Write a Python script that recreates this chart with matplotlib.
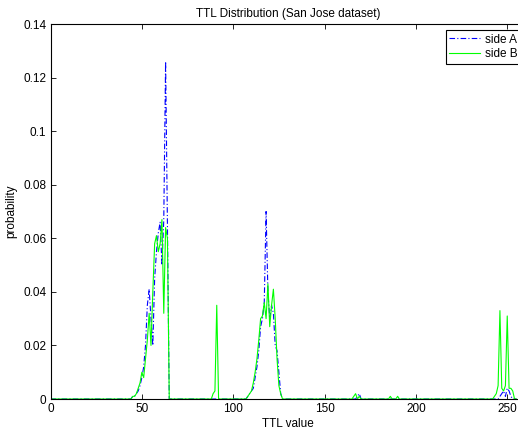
import numpy as np
import matplotlib
matplotlib.use('Agg')
import matplotlib.pyplot as plt
from matplotlib.ticker import FuncFormatter

plt.rcParams['font.family'] = ['Liberation Sans', 'DejaVu Sans']

# TTL values 0..255, most probabilities are zero
ttl = np.arange(256)

# side A: nonzero TTLs and their probability
a_ttl = [45, 46, 47, 48, 49, 50, 51, 52, 53, 54, 55, 56, 57, 58, 59, 60, 61, 62, 63, 64,
         108, 109, 110, 111, 112, 113, 114, 115, 116, 117, 118, 119, 120, 121, 122, 123, 124, 125, 126,
         168, 169, 246, 247, 248, 249, 250, 251, 252]
a_prob = [0.001, 0.001, 0.002, 0.003, 0.005, 0.008, 0.012, 0.02, 0.035, 0.041, 0.03, 0.02, 0.045, 0.055, 0.062, 0.066, 0.05, 0.067, 0.126, 0.065,
          0.001, 0.002, 0.003, 0.004, 0.008, 0.012, 0.018, 0.027, 0.03, 0.036, 0.070, 0.04, 0.03, 0.035, 0.032, 0.02, 0.018, 0.01, 0.002,
          0.001, 0.002, 0.001, 0.002, 0.003, 0.001, 0.004, 0.003, 0.001]

# side B: nonzero TTLs and their probability
b_ttl = [45, 46, 47, 48, 49, 50, 51, 52, 53, 54, 55, 56, 57, 58, 59, 60, 61, 62, 63, 64,
         89, 90, 91,
         108, 109, 110, 111, 112, 113, 114, 115, 116, 117, 118, 119, 120, 121, 122, 123, 124, 125, 126,
         166, 167, 169, 186, 190,
         243, 244, 245, 246, 247, 248, 249, 250, 251, 252, 253]
b_prob = [0.001, 0.001, 0.002, 0.004, 0.006, 0.01, 0.008, 0.015, 0.022, 0.032, 0.02, 0.04, 0.058, 0.061, 0.055, 0.058, 0.067, 0.032, 0.064, 0.06,
          0.002, 0.003, 0.035,
          0.001, 0.002, 0.003, 0.006, 0.01, 0.015, 0.022, 0.03, 0.031, 0.036, 0.03, 0.043, 0.027, 0.035, 0.041, 0.03, 0.015, 0.005, 0.002,
          0.001, 0.002, 0.001, 0.001, 0.001,
          0.001, 0.002, 0.005, 0.033, 0.004, 0.003, 0.005, 0.031, 0.004, 0.004, 0.003]

side_a = np.zeros(256)
side_a[a_ttl] = a_prob
side_b = np.zeros(256)
side_b[b_ttl] = b_prob

fig = plt.figure(figsize=(5.18, 4.29), dpi=100)
ax = fig.add_axes([0.0975, 0.0699, 0.917, 0.8741])

ax.plot(ttl, side_a, color='#0000ff', linestyle=(0, (5, 2, 1, 2)), lw=0.8, label='side A')
ax.plot(ttl, side_b, color='#00ff00', linestyle='-', lw=0.8, label='side B')

ax.set_xlim(0, 260)
ax.set_ylim(0, 0.14)
ax.set_xticks([0, 50, 100, 150, 200, 250])
ax.set_yticks(np.arange(0, 0.1401, 0.02))
ax.yaxis.set_major_formatter(FuncFormatter(lambda v, p: '%g' % round(v, 2)))
ax.tick_params(direction='in', length=3.5, width=0.6, top=True, right=True,
               labelsize=8.5, pad=3)
for s in ax.spines.values():
    s.set_linewidth(0.8)

ax.set_title('TTL Distribution (San Jose dataset)', fontsize=8.5, pad=5)
ax.set_xlabel('TTL value', fontsize=8.5, labelpad=2)
ax.set_ylabel('probability', fontsize=8.5, labelpad=4)

leg = ax.legend(loc='upper left', bbox_to_anchor=(445.7 / 518, 1 - 30 / 429),
                bbox_transform=fig.transFigure, fontsize=8.5, handlelength=2.6,
                fancybox=False, framealpha=1, edgecolor='black',
                borderpad=0.3, labelspacing=0.25, handletextpad=0.4, borderaxespad=0)
leg.get_frame().set_linewidth(0.8)

fig.savefig('out.png', dpi=100)
